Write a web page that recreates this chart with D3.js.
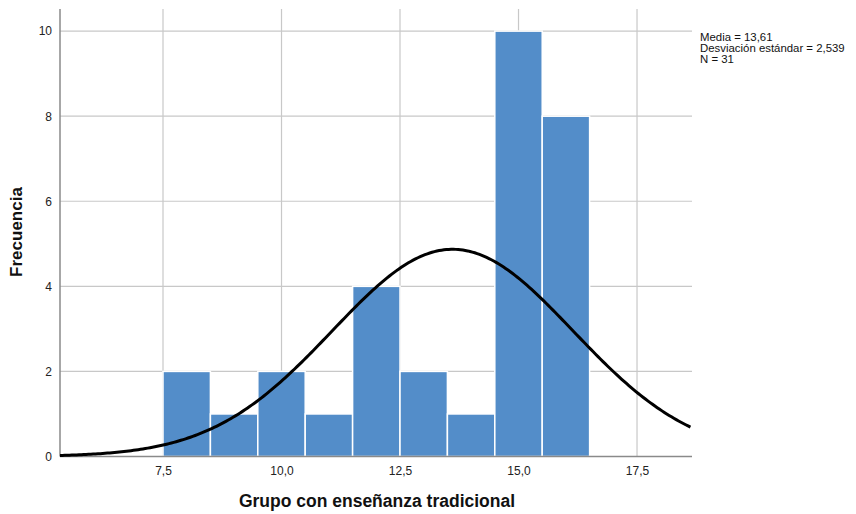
<!DOCTYPE html>
<html><head><meta charset="utf-8">
<script src="https://cdn.jsdelivr.net/npm/d3@7"></script>
<style>body{margin:0;background:#fff}svg{display:block}text{font-family:Arial,"Liberation Sans",sans-serif}</style>
</head><body><svg id="c" width="856" height="514"></svg>
<script>
const binStarts = [7.5, 8.5, 9.5, 10.5, 11.5, 12.5, 13.5, 14.5, 15.5];
const binWidth = 1;
const counts = [2, 1, 2, 1, 4, 2, 1, 10, 8];
const xTicks = [7.5, 10.0, 12.5, 15.0, 17.5];
const yTicks = [0, 2, 4, 6, 8, 10];
const stats = {mean: 13.61, sd: 2.539, n: 31};
const legendLines = ["Media = 13,61", "Desviación estándar = 2,539", "N = 31"];

const svg = d3.select("#c");
const L = 60, R = 692, T = 9, B = 456.5;
const x = d3.scaleLinear().domain([5.327, 18.66]).range([L, R]);
const y = d3.scaleLinear().domain([0, 10.52]).range([B, T]);
const fmt = d => d3.format(".1f")(d).replace(".", ",");

// grid
svg.append("g").selectAll("line").data(xTicks).join("line")
  .attr("x1", d => x(d)).attr("x2", d => x(d)).attr("y1", T).attr("y2", B)
  .attr("stroke", "#c8c8c8").attr("stroke-width", 1.2);
svg.append("g").selectAll("line").data(yTicks.filter(d => d > 0)).join("line")
  .attr("x1", L).attr("x2", R).attr("y1", d => y(d)).attr("y2", d => y(d))
  .attr("stroke", "#c8c8c8").attr("stroke-width", 1.2);

// bars
svg.append("g").selectAll("rect").data(binStarts).join("rect")
  .attr("x", d => x(d)).attr("width", d => x(d + binWidth) - x(d))
  .attr("y", (d, i) => y(counts[i])).attr("height", (d, i) => y(0) - y(counts[i]))
  .attr("fill", "#538dc9").attr("stroke", "#ffffff").attr("stroke-width", 1.5);

// axes
const xAxis = svg.append("g").attr("transform", `translate(0,${B})`)
  .call(d3.axisBottom(x).tickValues(xTicks).tickFormat(fmt).tickSize(0).tickPadding(10));
const yAxis = svg.append("g").attr("transform", `translate(${L},0)`)
  .call(d3.axisLeft(y).tickValues(yTicks).tickFormat(d3.format("d")).tickSize(0).tickPadding(8));
[xAxis, yAxis].forEach(g => {
  g.select(".domain").remove();
  g.selectAll("text").attr("font-size", 12).attr("fill", "#222")
    .style("font-family", "Arial, 'Liberation Sans', sans-serif");
});
svg.append("line").attr("x1", L).attr("x2", L).attr("y1", T).attr("y2", B)
  .attr("stroke", "#8a8a8a").attr("stroke-width", 1.5);
svg.append("line").attr("x1", L).attr("x2", R).attr("y1", B).attr("y2", B)
  .attr("stroke", "#8a8a8a").attr("stroke-width", 1.5);

// normal curve
const pdf = v => stats.n * binWidth / (stats.sd * Math.sqrt(2 * Math.PI)) *
  Math.exp(-0.5 * Math.pow((v - stats.mean) / stats.sd, 2));
const xs = d3.range(x.domain()[0], x.domain()[1] + 0.001, 0.05);
svg.append("path").datum(xs)
  .attr("d", d3.line().x(d => x(d)).y(d => y(pdf(d))))
  .attr("fill", "none").attr("stroke", "#000").attr("stroke-width", 3);

// titles
svg.append("text").attr("x", 377).attr("y", 507).attr("text-anchor", "middle")
  .attr("font-size", 17.5).attr("font-weight", "bold").attr("fill", "#111")
  .text("Grupo con enseñanza tradicional");
svg.append("text").attr("transform", "translate(22,232) rotate(-90)").attr("text-anchor", "middle")
  .attr("font-size", 17).attr("font-weight", "bold").attr("fill", "#111")
  .text("Frecuencia");

// legend
svg.append("g").selectAll("text").data(legendLines).join("text")
  .attr("x", 700).attr("y", (d, i) => 41 + i * 11)
  .attr("font-size", 11.4).attr("fill", "#111").text(d => d);
</script></body></html>
